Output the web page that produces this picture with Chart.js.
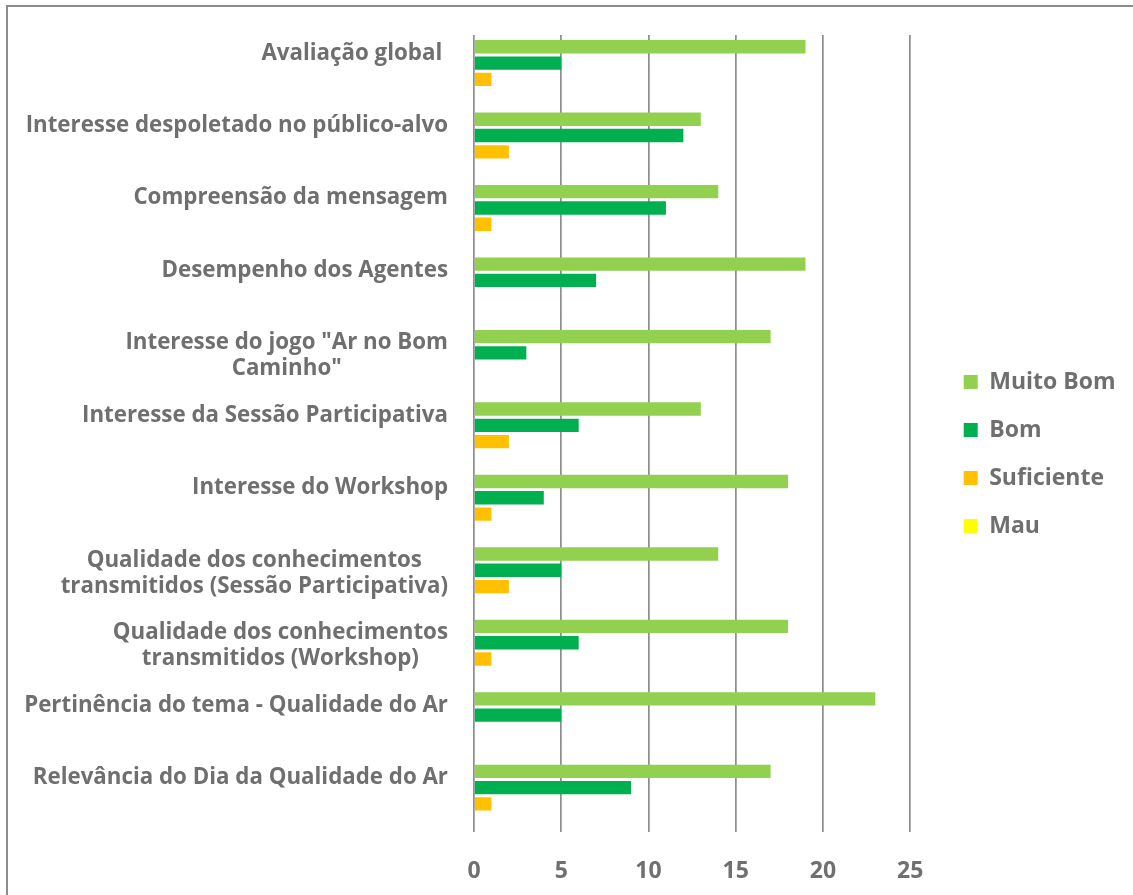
<!DOCTYPE html>
<html><head><meta charset="utf-8">
<script src="https://cdn.jsdelivr.net/npm/chart.js@4/dist/chart.umd.min.js"></script>
<style>
html,body{margin:0;padding:0;width:1133px;height:895px;overflow:hidden;background:#fff;}
#frame{position:absolute;left:6px;top:5px;width:1200px;height:1000px;border:2px solid #8c8c8c;box-sizing:border-box;}
#wrap{position:absolute;left:0;top:0;width:1133px;height:895px;}
</style></head><body>
<div id="frame"></div>
<div id="wrap"><canvas id="c" width="1133" height="895"></canvas></div>
<script>
const categories = [
  "Avaliação global ",
  "Interesse despoletado no público-alvo",
  "Compreensão da mensagem",
  "Desempenho dos Agentes",
  ["Interesse do jogo \"Ar no Bom", "Caminho\""],
  "Interesse da Sessão Participativa",
  "Interesse do Workshop",
  ["Qualidade dos conhecimentos", "transmitidos (Sessão Participativa)"],
  ["Qualidade dos conhecimentos", "transmitidos (Workshop)"],
  "Pertinência do tema - Qualidade do Ar",
  "Relevância do Dia da Qualidade do Ar"
];
const seriesNames = ["Muito Bom", "Bom", "Suficiente", "Mau"];
const muitoBom   = [19, 13, 14, 19, 17, 13, 18, 14, 18, 23, 17];
const bom        = [5, 12, 11, 7, 3, 6, 4, 5, 6, 5, 9];
const suficiente = [1, 2, 1, 0, 0, 2, 1, 2, 1, 0, 1];
const mau        = [0, 0, 0, 0, 0, 0, 0, 0, 0, 0, 0];
const xTickValues = [0, 5, 10, 15, 20, 25];

const TEXT = '#6f6f6f';
const GRID = '#8f8f8f';
const FONT = '"Open Sans", "DejaVu Sans", sans-serif';
const colors = ['#92D050', '#00B050', '#FFC000', '#FFFF00'];

const catLabels = {
  id: 'catLabels',
  afterLayout(chart) {
    const lg = chart.legend;
    if (lg) { lg.top -= 11; lg.bottom -= 11; }
  },
  afterDraw(chart) {
    const ctx = chart.ctx, y = chart.scales.y, area = chart.chartArea;
    ctx.save();
    ctx.font = 'bold 22.3px ' + FONT;
    ctx.fillStyle = TEXT;
    ctx.textBaseline = 'middle';
    ctx.textAlign = 'center';
    categories.forEach((lab, i) => {
      const lines = Array.isArray(lab) ? lab : [lab];
      const w = Math.max(...lines.map(l => ctx.measureText(l).width));
      const right = area.left - 26;
      const cx = right - w / 2;
      const c = y.getPixelForValue(i);
      lines.forEach((l, j) => ctx.fillText(l, cx, c - 18 + j * 26));
    });
    ctx.restore();
  }
};

const data = {
  labels: categories,
  datasets: [muitoBom, bom, suficiente, mau].map((d, i) => ({
    label: seriesNames[i],
    data: d,
    backgroundColor: colors[i],
    borderWidth: 0,
    categoryPercentage: 0.9,
    barPercentage: 0.82
  }))
};

new Chart(document.getElementById('c'), {
  type: 'bar',
  data,
  options: {
    indexAxis: 'y',
    responsive: false,
    animation: false,
    devicePixelRatio: 1,
    layout: { padding: { top: 35, right: 7.5, bottom: 0, left: 0 } },
    plugins: {
      tooltip: { enabled: false },
      legend: {
        position: 'right',
        align: 'center',
        labels: {
          boxWidth: 14, boxHeight: 14, padding: 25,
          color: TEXT,
          font: { family: FONT, size: 23, weight: 'bold' }
        }
      }
    },
    scales: {
      x: {
        type: 'linear', min: 0, max: 25,
        afterBuildTicks: s => { s.ticks = xTickValues.map(v => ({ value: v })); },
        ticks: { color: TEXT, font: { family: FONT, size: 23, weight: 'bold' }, padding: 26 },
        grid: { color: GRID, lineWidth: 1.75, drawTicks: false },
        border: { display: false },
        afterFit: s => { s.height = 63; }
      },
      y: {
        type: 'category',
        ticks: { display: false },
        grid: { display: false },
        border: { display: false },
        afterFit: s => { s.width = 474; }
      },
      yR: {
        type: 'category',
        position: 'right',
        ticks: { display: false },
        grid: { display: false },
        border: { display: false },
        afterFit: s => { s.width = 28.5; }
      }
    }
  },
  plugins: [catLabels]
});
</script>
</body></html>
